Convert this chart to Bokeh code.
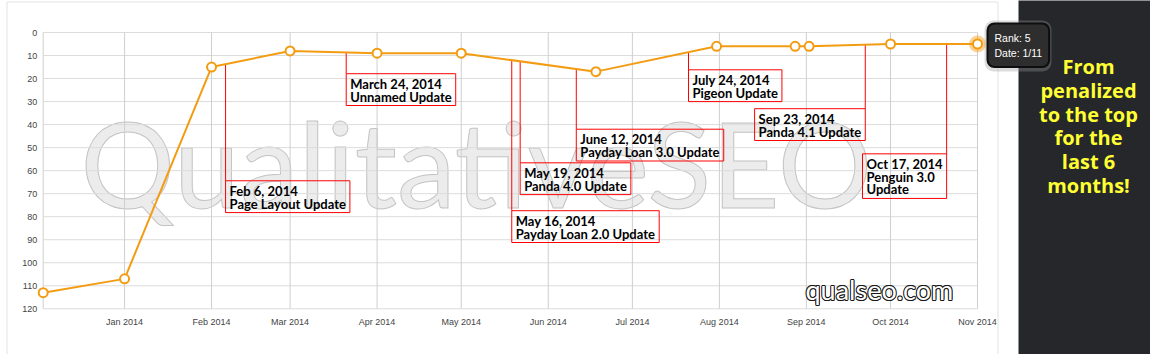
import numpy as np
import pandas as pd
from bokeh.plotting import figure
from bokeh.models import Range1d, Label, BoxAnnotation, Text
from bokeh.core.properties import value
from bokeh.embed import file_html
from bokeh.resources import INLINE

# ---------------- data ----------------
rank_dates = ["2013-12-03", "2014-01-01", "2014-02-01", "2014-03-01", "2014-04-01",
              "2014-05-01", "2014-06-18", "2014-07-31", "2014-08-28", "2014-09-02",
              "2014-10-01", "2014-11-01"]
ranks = [113, 107, 15, 8, 9, 9, 17, 6, 6, 6, 5, 5]

month_ticks = ["2014-01-01", "2014-02-01", "2014-03-01", "2014-04-01", "2014-05-01",
               "2014-06-01", "2014-07-01", "2014-08-01", "2014-09-01", "2014-10-01",
               "2014-11-01"]
month_labels = ["Jan 2014", "Feb 2014", "Mar 2014", "Apr 2014", "May 2014", "Jun 2014",
                "Jul 2014", "Aug 2014", "Sep 2014", "Oct 2014", "Nov 2014"]
rank_ticks = [0, 10, 20, 30, 40, 50, 60, 70, 80, 90, 100, 110, 120]

update_dates = ["2014-02-06", "2014-03-21", "2014-05-19", "2014-05-22", "2014-06-11",
                "2014-07-21", "2014-09-22", "2014-10-21"]
update_labels = ["Feb 6, 2014\nPage Layout Update",
                 "March 24, 2014\nUnnamed Update",
                 "May 16, 2014\nPayday Loan 2.0 Update",
                 "May 19, 2014\nPanda 4.0 Update",
                 "June 12, 2014\nPayday Loan 3.0 Update",
                 "July 24, 2014\nPigeon Update",
                 "Sep 23, 2014\nPanda 4.1 Update",
                 "Oct 17, 2014\nPenguin 3.0\nUpdate"]
# layout of the callout boxes (rank units for the box top, side of the line)
update_box_top = [64.4, 17.9, 77.4, 56.6, 42.0, 16.2, 33.1, 52.7]
update_box_anchor = ["top_left"] * 6 + ["top_right"] * 2

panel_lines = ["From", "penalized", "to the top", "for the", "last 6", "months!"]
watermark = "QualitativeSEO"
site = "qualseo.com"

# ---------------- geometry (canvas pixels) ----------------
ORANGE = "#f39c12"
W, H = 1150, 354


def ms(s):
    return pd.Timestamp(s).value / 1e6


# plot area: first point at x=42.7, 1 Nov at x=977; rank 0 at y=32, 120 at y=308.3
PX_PER_MS = (977.0 - 42.7) / (ms("2014-11-01") - ms("2013-12-03"))
X_START = ms("2013-12-03") - 42.7 / PX_PER_MS
PX_PER_RANK = (308.3 - 32.0) / 120.0
Y_TOP = -32.0 / PX_PER_RANK


def px_x(px):
    return X_START + px / PX_PER_MS


def px_y(py):
    return Y_TOP + py / PX_PER_RANK


p = figure(width=W, height=H, x_range=Range1d(px_x(0), px_x(W)),
           y_range=Range1d(px_y(H), px_y(0)),
           x_axis_location=None, y_axis_location=None, min_border=0,
           output_backend="svg", toolbar_location=None, tools="")
p.grid.visible = False
p.outline_line_color = None
p.background_fill_color = "white"
p.border_fill_color = "white"

has_outline = "text_outline_color" in Text.properties()

x_first, x_last = ms(rank_dates[0]), ms(rank_dates[-1])
tick_ms = [ms(d) for d in month_ticks]

# container border
p.quad(left=[px_x(6.5)], right=[px_x(997.5)], top=[px_y(1.5)], bottom=[px_y(400)],
       fill_color=None, line_color="#e3e3e3", line_width=1)

# watermark (below the grid)
wm_kw = dict(text_outline_color="#c4c4c4") if has_outline else {}
p.text(x=[px_x(80)], y=[px_y(162)], text=[watermark], text_font=value("Lato"),
       text_font_size="118px", text_align="left", text_baseline="middle",
       text_color="#ececec" if has_outline else "#dedede", level="image", **wm_kw)

# grid
p.segment(x0=[x_first] * len(rank_ticks), y0=rank_ticks, x1=[x_last] * len(rank_ticks),
          y1=rank_ticks, line_color="#dcdcdc", line_width=1)
p.segment(x0=[x_first] + tick_ms, y0=[0] * (len(tick_ms) + 1), x1=[x_first] + tick_ms,
          y1=[120] * (len(tick_ms) + 1), line_color="#cfcfcf", line_width=1)

# tick labels
p.text(x=[px_x(36.7)] * len(rank_ticks), y=rank_ticks, text=[str(t) for t in rank_ticks],
       text_font=value("Liberation Sans"), text_font_size="9px", text_color="#444444",
       text_align="right", text_baseline="middle")
p.text(x=tick_ms, y=[px_y(321)] * len(tick_ms), text=month_labels,
       text_font=value("Liberation Sans"), text_font_size="9px", text_color="#444444",
       text_align="center", text_baseline="middle")

# callout lines
rank_ms = np.array([ms(d) for d in rank_dates])
upd_ms = np.array([ms(d) for d in update_dates])
line_y = np.interp(upd_ms, rank_ms, ranks)
p.segment(x0=upd_ms, y0=line_y, x1=upd_ms, y1=update_box_top, line_color="red", line_width=1)

# series
xs = pd.to_datetime(rank_dates)
p.line(xs, ranks, line_color=ORANGE, line_width=2)
p.scatter([xs[-1]], [ranks[-1]], size=17, fill_color=ORANGE, fill_alpha=0.45, line_color=None)
p.scatter(xs, ranks, size=9, fill_color="white", line_color=ORANGE, line_width=2)

# site name: thin dark outline built from shifted copies, white face on top
offs = [(-1.0, 0), (1.0, 0), (0, -1.0), (0, 1.0), (-0.7, -0.7), (0.7, 0.7), (-0.7, 0.7), (0.7, -0.7)]
site_x, site_y = px_x(805), px_y(289)
p.text(x=[site_x] * len(offs), y=[site_y] * len(offs), text=[site] * len(offs),
       x_offset=[o[0] for o in offs], y_offset=[o[1] for o in offs],
       text_font=value("Lato"), text_font_size="27px", text_align="left",
       text_baseline="middle", text_color="#1a1a1a")
p.text(x=[site_x], y=[site_y], text=[site], text_font=value("Lato"), text_font_size="27px",
       text_align="left", text_baseline="middle", text_color="white")

# dark side panel
p.quad(left=[px_x(1018)], right=[px_x(1170)], top=[px_y(-20)], bottom=[px_y(380)],
       fill_color="#25272b", line_color=None)
panel_centers = [65.5, 89.5, 113.5, 137.2, 161.2, 185.2]
p.text(x=[px_x(1088)] * len(panel_lines), y=[px_y(c) for c in panel_centers],
       text=panel_lines, text_font=value("Open Sans"), text_font_style="bold",
       text_font_size="20px", text_color="#ffff33", text_align="center",
       text_baseline="middle")

# callout boxes
for d, t, top, anc in zip(upd_ms, update_labels, update_box_top, update_box_anchor):
    p.add_layout(Label(x=d, y=top, text=t, anchor=anc, text_font="Lato",
                       text_font_style="bold", text_font_size="13px", text_color="black",
                       text_line_height=0.8,
                       padding=dict(left=4, right=4, top=2, bottom=1),
                       border_line_color="red", border_line_width=1,
                       background_fill_color=None))

# tooltip
last = pd.Timestamp(rank_dates[-1])
tip = f"Rank: {ranks[-1]}\nDate: {last.day}/{last.month}"
p.add_layout(BoxAnnotation(left=px_x(984), right=px_x(1051), top=px_y(20), bottom=px_y(71),
                           fill_color="#9a9a9a", fill_alpha=0.35, line_color=None,
                           border_radius=9))
p.add_layout(Label(x=px_x(987), y=px_y(23), text=tip, anchor="top_left",
                   text_font="Liberation Sans", text_font_size="10.5px", text_color="white",
                   text_line_height=1.3,
                   padding=dict(left=7, right=7, top=8, bottom=8),
                   background_fill_color="#2e2e2e", border_line_color="#0e0e0e",
                   border_line_width=2, border_radius=7))

open("out.html", "w").write(file_html(p, INLINE))
